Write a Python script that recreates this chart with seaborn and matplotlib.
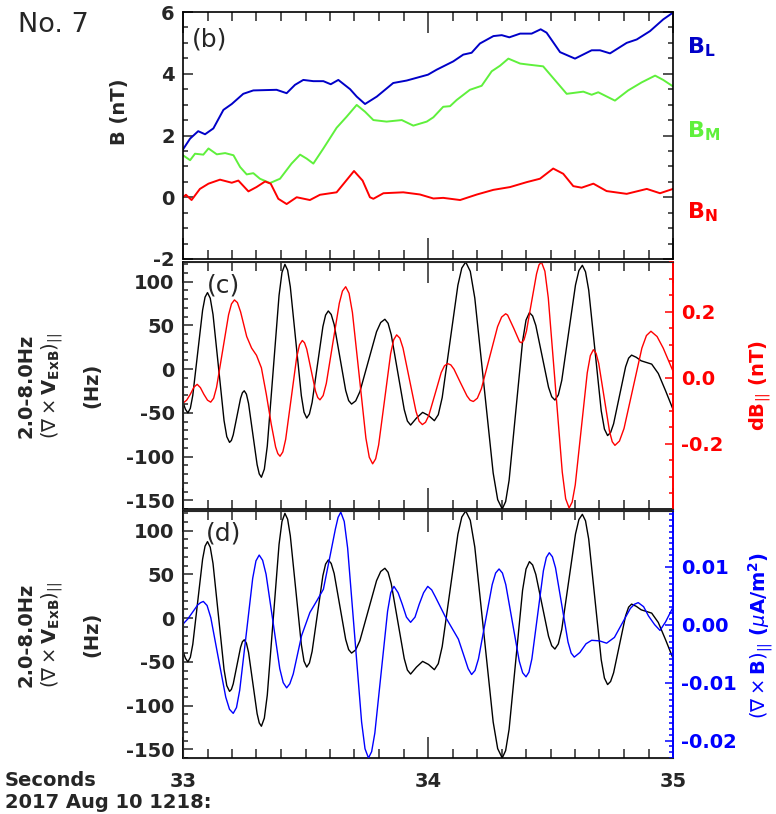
import matplotlib
matplotlib.use("Agg")
import matplotlib.pyplot as plt
from matplotlib.ticker import MultipleLocator, FormatStrFormatter
import seaborn as sns

# ---------------- data ----------------
# (b) magnetic field components, nT
bl_t = [33.000, 33.029, 33.062, 33.090, 33.124, 33.165, 33.199, 33.246, 33.287, 33.382,
        33.423, 33.457, 33.491, 33.532, 33.573, 33.603, 33.634, 33.682, 33.709, 33.743,
        33.791, 33.858, 33.913, 34.000, 34.035, 34.103, 34.144, 34.178, 34.212, 34.267,
        34.301, 34.332, 34.376, 34.423, 34.460, 34.484, 34.539, 34.600, 34.668, 34.702,
        34.743, 34.811, 34.852, 34.906, 34.960, 35.000]
bl_v = [1.55, 1.90, 2.14, 2.04, 2.23, 2.83, 3.02, 3.35, 3.46, 3.48,
        3.37, 3.64, 3.80, 3.76, 3.76, 3.66, 3.80, 3.50, 3.26, 3.02,
        3.26, 3.70, 3.78, 3.97, 4.13, 4.40, 4.62, 4.68, 4.98, 5.22,
        5.25, 5.18, 5.30, 5.30, 5.44, 5.33, 4.70, 4.49, 4.76, 4.76,
        4.66, 5.00, 5.11, 5.38, 5.76, 5.98]

bm_t = [33.000, 33.029, 33.049, 33.083, 33.104, 33.138, 33.172, 33.206, 33.233, 33.260,
        33.287, 33.314, 33.355, 33.396, 33.443, 33.478, 33.505, 33.532, 33.573, 33.627,
        33.668, 33.709, 33.743, 33.777, 33.831, 33.893, 33.940, 33.995, 34.022, 34.062,
        34.090, 34.117, 34.171, 34.219, 34.260, 34.294, 34.328, 34.376, 34.416, 34.470,
        34.511, 34.566, 34.634, 34.668, 34.695, 34.763, 34.817, 34.872, 34.927, 34.960,
        35.000]
bm_v = [1.36, 1.20, 1.41, 1.38, 1.58, 1.39, 1.43, 1.36, 0.98, 0.74,
        0.78, 0.60, 0.46, 0.60, 1.09, 1.38, 1.25, 1.09, 1.58, 2.25,
        2.61, 2.99, 2.77, 2.50, 2.45, 2.50, 2.32, 2.45, 2.59, 2.93,
        2.95, 3.15, 3.48, 3.61, 4.08, 4.26, 4.49, 4.33, 4.29, 4.24,
        3.86, 3.35, 3.42, 3.32, 3.40, 3.13, 3.46, 3.72, 3.94, 3.80,
        3.59]

bn_t = [33.000, 33.012, 33.035, 33.069, 33.104, 33.151, 33.199, 33.226, 33.267, 33.300,
        33.335, 33.358, 33.389, 33.423, 33.464, 33.518, 33.559, 33.627, 33.661, 33.698,
        33.733, 33.763, 33.777, 33.818, 33.899, 33.967, 34.022, 34.062, 34.131, 34.200,
        34.267, 34.335, 34.403, 34.457, 34.511, 34.552, 34.593, 34.627, 34.675, 34.729,
        34.811, 34.893, 34.947, 35.000]
bn_v = [0.00, 0.08, -0.09, 0.27, 0.44, 0.57, 0.47, 0.54, 0.19, 0.33,
        0.51, 0.44, -0.05, -0.22, 0.00, -0.09, 0.08, 0.16, 0.49, 0.85,
        0.54, 0.00, -0.05, 0.13, 0.16, 0.09, -0.04, -0.02, -0.09, 0.09,
        0.24, 0.33, 0.49, 0.60, 0.93, 0.76, 0.36, 0.31, 0.44, 0.20,
        0.11, 0.27, 0.13, 0.27]

# (c),(d) 2-8 Hz band-passed vorticity of V_ExB, Hz
curl_t = [33.000, 33.010, 33.020, 33.030, 33.040, 33.060, 33.080, 33.090, 33.100, 33.11125,
          33.1225, 33.145, 33.1675, 33.17875, 33.190, 33.1975, 33.205, 33.220, 33.235, 33.2425,
          33.250, 33.25875, 33.2675, 33.285, 33.3025, 33.31125, 33.320, 33.332, 33.344, 33.368,
          33.392, 33.404, 33.416, 33.4271, 33.438, 33.4605, 33.483, 33.4939, 33.505, 33.516,
          33.527, 33.549, 33.571, 33.582, 33.593, 33.6049, 33.617, 33.6405, 33.664, 33.6761,
          33.688, 33.705, 33.722, 33.756, 33.790, 33.807, 33.824, 33.8371, 33.850, 33.8765,
          33.903, 33.9159, 33.929, 33.953, 33.978, 34.002, 34.026, 34.042, 34.058, 34.090,
          34.122, 34.138, 34.154, 34.1726, 34.191, 34.2285, 34.266, 34.2844, 34.303, 34.3169,
          34.331, 34.3585, 34.386, 34.4001, 34.414, 34.427, 34.440, 34.466, 34.492, 34.505,
          34.518, 34.532, 34.546, 34.574, 34.602, 34.616, 34.630, 34.6429, 34.656, 34.6815,
          34.707, 34.7201, 34.733, 34.7453, 34.7575, 34.782, 34.8065, 34.8188, 34.831, 34.850,
          34.870, 34.913, 34.940, 34.970, 35.000]
curl_v = [-38, -46, -50, -44.8, -29.9, 18.8, 67.4, 82.3, 87.5, 81.0,
          62.5, 1.9, -58.8, -77.3, -83.8, -81.6, -75.2, -54.3, -33.4, -27.0,
          -24.8, -28.6, -39.2, -74.3, -109.3, -119.9, -123.7, -114.4, -88.1, -2.0,
          84.2, 110.5, 119.8, 113.1, 94.1, 31.9, -30.3, -49.3, -56, -51.3,
          -38.1, 5.3, 48.6, 61.8, 66.5, 62.5, 51.0, 13.3, -24.4, -36.0,
          -40, -36.3, -25.8, 8.5, 42.8, 53.3, 57, 52.4, 39.3, -3.5,
          -46.3, -59.4, -64, -56, -49.5, -53, -59, -52.1, -32.5, 31.8,
          96.0, 115.6, 122.5, 111.8, 81.3, -18.8, -118.8, -149.3, -160, -151.5,
          -127.2, -47.7, 31.8, 56.1, 64.6, 60.8, 50.0, 14.6, -20.8, -31.6,
          -35.4, -29.5, -12.9, 41.7, 96.2, 112.8, 118.7, 111.3, 90.3, 21.4,
          -47.6, -68.6, -76, -72.5, -62.6, -30, 2.6, 12.5, 16, 13.5,
          9.5, 5.7, -5, -25, -46]

# (c) parallel magnetic fluctuation, nT
db_t = [33.000, 33.015, 33.030, 33.045, 33.058, 33.071, 33.085, 33.100, 33.113, 33.1251,
        33.137, 33.1615, 33.186, 33.1979, 33.210, 33.222, 33.235, 33.260, 33.280, 33.300,
        33.320, 33.340, 33.360, 33.378, 33.387, 33.396, 33.4074, 33.419, 33.4415, 33.464,
        33.4756, 33.487, 33.496, 33.505, 33.523, 33.541, 33.550, 33.559, 33.5721, 33.585,
        33.6115, 33.638, 33.6509, 33.664, 33.6778, 33.6915, 33.719, 33.7465, 33.7603, 33.774,
        33.7863, 33.7985, 33.823, 33.8475, 33.8598, 33.872, 33.8851, 33.898, 33.9245, 33.951,
        33.9639, 33.977, 33.9899, 34.003, 34.0285, 34.054, 34.0671, 34.080, 34.0931, 34.106,
        34.1325, 34.159, 34.1719, 34.185, 34.2015, 34.218, 34.251, 34.284, 34.3005, 34.317,
        34.325, 34.350, 34.374, 34.382, 34.392, 34.402, 34.4225, 34.443, 34.4529, 34.463,
        34.4771, 34.491, 34.5195, 34.548, 34.5619, 34.576, 34.5884, 34.601, 34.6255, 34.650,
        34.6626, 34.675, 34.686, 34.697, 34.719, 34.741, 34.752, 34.763, 34.7814, 34.800,
        34.8365, 34.873, 34.8916, 34.910, 34.935, 34.960, 34.980, 35.000]
db_v = [-0.077, -0.068, -0.050, -0.028, -0.020, -0.030, -0.050, -0.068, -0.074, -0.062,
        -0.029, 0.081, 0.191, 0.224, 0.236, 0.228, 0.200, 0.125, 0.090, 0.068,
        0.030, -0.050, -0.140, -0.210, -0.230, -0.238, -0.225, -0.187, -0.063, 0.062,
        0.100, 0.113, 0.106, 0.087, 0.023, -0.041, -0.060, -0.067, -0.054, -0.017,
        0.105, 0.226, 0.263, 0.276, 0.256, 0.198, 0.008, -0.183, -0.241, -0.261,
        -0.246, -0.204, -0.066, 0.073, 0.115, 0.130, 0.120, 0.090, -0.006, -0.102,
        -0.132, -0.142, -0.135, -0.115, -0.050, 0.016, 0.036, 0.043, 0.039, 0.026,
        -0.015, -0.055, -0.068, -0.072, -0.062, -0.033, 0.061, 0.155, 0.184, 0.194,
        0.190, 0.150, 0.109, 0.106, 0.115, 0.142, 0.229, 0.315, 0.342, 0.351,
        0.323, 0.242, -0.022, -0.286, -0.367, -0.395, -0.377, -0.325, -0.155, 0.015,
        0.067, 0.085, 0.074, 0.043, -0.060, -0.163, -0.194, -0.205, -0.192, -0.154,
        -0.032, 0.090, 0.128, 0.141, 0.125, 0.090, 0.055, 0.020]

# (d) parallel current density, uA/m^2
j_t = [33.000, 33.020, 33.040, 33.060, 33.072, 33.083, 33.0983, 33.1135, 33.144, 33.1745,
       33.1898, 33.205, 33.2183, 33.2315, 33.258, 33.2845, 33.2978, 33.311, 33.325, 33.339,
       33.367, 33.395, 33.409, 33.423, 33.436, 33.450, 33.484, 33.518, 33.546, 33.573,
       33.600, 33.622, 33.633, 33.644, 33.6581, 33.672, 33.7005, 33.729, 33.7429, 33.757,
       33.770, 33.783, 33.809, 33.835, 33.848, 33.861, 33.878, 33.895, 33.912, 33.929,
       33.947, 33.964, 33.982, 33.999, 34.015, 34.030, 34.069, 34.124, 34.150, 34.164,
       34.178, 34.192, 34.206, 34.234, 34.262, 34.276, 34.290, 34.3038, 34.3175, 34.345,
       34.3725, 34.3863, 34.400, 34.4119, 34.424, 34.4475, 34.471, 34.4831, 34.495, 34.5078,
       34.5205, 34.546, 34.5715, 34.5843, 34.597, 34.620, 34.645, 34.668, 34.700, 34.729,
       34.761, 34.7935, 34.826, 34.842, 34.858, 34.880, 34.900, 34.925, 34.947, 34.970,
       35.000]
j_v = [0.0001, 0.0010, 0.0022, 0.0034, 0.0038, 0.0040, 0.0033, 0.0012, -0.0057, -0.0125,
       -0.0146, -0.0153, -0.0143, -0.0113, -0.0017, 0.0080, 0.0110, 0.0120, 0.0111, 0.0087,
       0.0006, -0.0076, -0.0100, -0.0109, -0.0102, -0.0085, -0.0019, 0.0021, 0.0041, 0.0061,
       0.0118, 0.0165, 0.0185, 0.0194, 0.0178, 0.0132, -0.0018, -0.0168, -0.0214, -0.0230,
       -0.0219, -0.0187, -0.0082, 0.0023, 0.0055, 0.0066, 0.0055, 0.0035, 0.0013, 0.0004,
       0.0013, 0.0035, 0.0055, 0.0066, 0.0060, 0.0048, 0.0015, -0.0025, -0.0058, -0.0076,
       -0.0086, -0.0079, -0.0059, 0.0005, 0.0069, 0.0089, 0.0096, 0.0089, 0.0069, 0.0003,
       -0.0063, -0.0083, -0.0090, -0.0082, -0.0059, 0.0017, 0.0093, 0.0116, 0.0124, 0.0117,
       0.0098, 0.0034, -0.0030, -0.0049, -0.0056, -0.0048, -0.0033, -0.0027, -0.0028, -0.0032,
       -0.0022, 0.0003, 0.0028, 0.0035, 0.0038, 0.0031, 0.0015, 0.0000, -0.0010, 0.0005,
       0.0030]

x_ticks = [33, 34, 35]
x_tick_labels = ["33", "34", "35"]

# ---------------- style ----------------
sns.set_style("ticks")
plt.rcParams["font.family"] = ["DejaVu Sans"]
plt.rcParams["mathtext.fontset"] = "dejavusans"
plt.rcParams["axes.unicode_minus"] = False

C_BL = "#0000C8"
C_BM = "#5FF03C"
C_RED = "#FF0000"
C_BLUE = "#0000FF"
TICK_FS = 14

W, H = 776, 814
fig = plt.figure(figsize=(W / 100, H / 100), dpi=100)


def box(x0, y0, x1, y1):
    return [x0 / W, 1 - y1 / H, (x1 - x0) / W, (y1 - y0) / H]


axb = fig.add_axes(box(183, 12, 673, 259))
axc = fig.add_axes(box(183, 262, 673, 509))
axd = fig.add_axes(box(183, 511, 673, 758))


def style_time_axis(ax, show_labels):
    ax.set_xlim(33, 35)
    ax.set_xticks(x_ticks)
    ax.xaxis.set_minor_locator(MultipleLocator(0.1))
    ax.tick_params(axis="x", which="major", direction="in", length=15, width=1.1,
                   top=True, bottom=True, pad=10)
    ax.tick_params(axis="x", which="minor", direction="in", length=6.5, width=1.1,
                   top=True, bottom=True)
    if show_labels:
        ax.set_xticklabels(x_tick_labels, fontsize=TICK_FS, fontweight="bold")
    else:
        ax.set_xticklabels([])
    for s in ax.spines.values():
        s.set_linewidth(1.2)
        s.set_color("black")
    ax.set_xlabel("")
    ax.set_ylabel("")


def style_left(ax, lo, hi, major, minor, right=False):
    ax.set_ylim(lo, hi)
    ax.yaxis.set_major_locator(MultipleLocator(major))
    ax.yaxis.set_minor_locator(MultipleLocator(minor))
    ax.tick_params(axis="y", which="major", direction="in", length=7, width=1.1,
                   left=True, right=right, pad=6, labelsize=TICK_FS)
    ax.tick_params(axis="y", which="minor", direction="in", length=3.5, width=1.1,
                   left=True, right=right)
    for lab in ax.get_yticklabels():
        lab.set_fontweight("bold")


def style_right(ax, lo, hi, major, minor, fmt, color):
    ax.set_ylim(lo, hi)
    ax.yaxis.set_major_locator(MultipleLocator(major))
    ax.yaxis.set_minor_locator(MultipleLocator(minor))
    ax.yaxis.set_major_formatter(FormatStrFormatter(fmt))
    ax.tick_params(axis="y", which="major", direction="in", length=6, width=1.1,
                   color=color, labelcolor=color, pad=6, labelsize=TICK_FS)
    ax.tick_params(axis="y", which="minor", direction="in", length=3, width=1.1,
                   color=color)
    for lab in ax.get_yticklabels():
        lab.set_fontweight("bold")
    ax.spines["right"].set_color(color)
    ax.spines["right"].set_linewidth(1.2)
    ax.set_ylabel("")
    ax.set_xlabel("")


def line(ax, t, v, color, lw):
    sns.lineplot(x=t, y=v, ax=ax, color=color, linewidth=lw, sort=False, estimator=None)


# ---------------- (b) ----------------
line(axb, bl_t, bl_v, C_BL, 1.4)
line(axb, bm_t, bm_v, C_BM, 1.4)
line(axb, bn_t, bn_v, C_RED, 1.4)
style_time_axis(axb, False)
style_left(axb, -2, 6, 2, 0.5, right=True)

# ---------------- (c) ----------------
line(axc, curl_t, curl_v, "black", 1.0)
style_time_axis(axc, False)
style_left(axc, -160, 122.5, 50, 10)
axc2 = axc.twinx()
line(axc2, db_t, db_v, C_RED, 1.0)
axc2.set_xlim(33, 35)
style_right(axc2, -0.398, 0.351, 0.2, 0.05, "%.1f", C_RED)
axc.spines["right"].set_color(C_RED)

# ---------------- (d) ----------------
line(axd, curl_t, curl_v, "black", 1.0)
style_time_axis(axd, True)
style_left(axd, -160, 122.5, 50, 10)
axd2 = axd.twinx()
line(axd2, j_t, j_v, C_BLUE, 1.0)
axd2.set_xlim(33, 35)
style_right(axd2, -0.023, 0.0196, 0.01, 0.001, "%.2f", C_BLUE)
axd.spines["right"].set_color(C_BLUE)


def ftext(x, y, s, **kw):
    fig.text(x / W, 1 - y / H, s, **kw)


# panel tags
ftext(192, 27, "(b)", fontsize=18, ha="left", va="top")
ftext(207, 273, "(c)", fontsize=18, ha="left", va="top")
ftext(206, 522, "(d)", fontsize=18, ha="left", va="top")
ftext(18, 12, "No. 7", fontsize=19.5, ha="left", va="top")

# (b) labels
ftext(120, 112, "B (nT)", fontsize=TICK_FS, fontweight="bold", rotation=90,
      ha="center", va="center")
ftext(687, 53, r"B$_\mathbf{L}$", fontsize=16, fontweight="bold", color=C_BL,
      ha="left", va="baseline")
ftext(687, 137, r"B$_\mathbf{M}$", fontsize=16, fontweight="bold", color=C_BM,
      ha="left", va="baseline")
ftext(687, 218, r"B$_\mathbf{N}$", fontsize=16, fontweight="bold", color=C_RED,
      ha="left", va="baseline")

# (c),(d) left three-line labels
for yc in (385.5, 634.5):
    ftext(26.5, yc, "2.0-8.0Hz", fontsize=TICK_FS, fontweight="bold", rotation=90,
          ha="center", va="center")
    ftext(52, yc, r"$(\nabla\times\mathbf{V}_\mathbf{ExB})_{||}$", fontsize=TICK_FS,
          rotation=90, ha="center", va="center")
    ftext(91.5, yc, "(Hz)", fontsize=TICK_FS, fontweight="bold", rotation=90,
          ha="center", va="center")

# right-hand labels
ftext(760, 386, r"dB$_{||}$ (nT)", fontsize=TICK_FS, fontweight="bold", color=C_RED,
      rotation=90, ha="center", va="center")
ftext(761, 635, r"$(\nabla\times\mathbf{B})_{||}$ ($\mu$A/m$^\mathbf{2}$)", fontsize=TICK_FS,
      fontweight="bold", color=C_BLUE, rotation=90, ha="center", va="center")

# time axis annotation
ftext(5, 780, "Seconds", fontsize=14, fontweight="bold", ha="left", va="center")
ftext(5, 802, "2017 Aug 10 1218:", fontsize=14, fontweight="bold", ha="left", va="center")

fig.savefig("out.png", dpi=100)
